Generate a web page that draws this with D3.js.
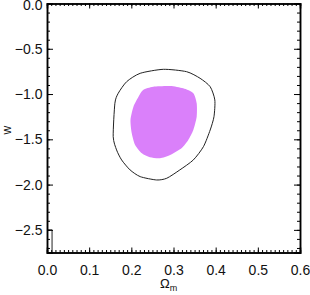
<!DOCTYPE html>
<html><head><meta charset="utf-8">
<script src="https://cdn.jsdelivr.net/npm/d3@7"></script>
<style>body{margin:0;background:#fff}svg{display:block}</style>
</head><body>
<script>
const xTicks = [0.0, 0.1, 0.2, 0.3, 0.4, 0.5, 0.6];
const yTicks = [0.0, -0.5, -1.0, -1.5, -2.0, -2.5];
const outerOm = [0.157,0.161,0.169,0.189,0.221,0.276,0.331,0.363,0.387,0.398,0.396,0.387,0.371,0.347,0.315,0.284,0.260,0.221,0.197,0.177,0.165];
const outerW  = [-1.470,-1.102,-0.991,-0.863,-0.771,-0.727,-0.753,-0.826,-0.919,-1.065,-1.250,-1.397,-1.581,-1.728,-1.838,-1.930,-1.949,-1.912,-1.838,-1.728,-1.617];
const innerOm = [0.217,0.228,0.252,0.292,0.323,0.347,0.355,0.355,0.347,0.335,0.319,0.292,0.268,0.244,0.225,0.209,0.201,0.198,0.205];
const innerW  = [-1.029,-0.955,-0.919,-0.911,-0.937,-0.991,-1.102,-1.250,-1.397,-1.507,-1.599,-1.673,-1.709,-1.698,-1.654,-1.562,-1.433,-1.286,-1.139];
const cornerOm = [0.0, 0.012, 0.012];
const cornerW  = [-2.5, -2.5, -2.75];

const W = 310, H = 295;
const svg = d3.select("body").append("svg").attr("width", W).attr("height", H);
const x = d3.scaleLinear().domain([0, 0.6]).range([47, 300]);
const y = d3.scaleLinear().domain([0, -2.75]).range([3.5, 252.5]);

const line = d3.line().x(d => x(d[0])).y(d => y(d[1])).curve(d3.curveCardinalClosed.tension(0.3));
const inner = innerOm.map((v, i) => [v, innerW[i]]);
const outer = outerOm.map((v, i) => [v, outerW[i]]);
svg.append("path").attr("d", line(inner)).attr("fill", "#da80fa").attr("stroke", "none");
svg.append("path").attr("d", line(outer)).attr("fill", "none").attr("stroke", "#222").attr("stroke-width", 1);
svg.append("path").attr("d", d3.line().x(d => x(d[0])).y(d => y(d[1]))(cornerOm.map((v, i) => [v, cornerW[i]])))
  .attr("fill", "none").attr("stroke", "#222").attr("stroke-width", 1);

const font = "Liberation Sans, Arial, Helvetica, sans-serif";
const minorX = d3.range(0, 61).map(i => i / 100);
const minorY = d3.range(0, 28).map(i => -i / 10);
svg.append("g").attr("transform", `translate(0,${y(-2.75)})`)
  .call(d3.axisBottom(x).tickValues(xTicks).tickSize(-5).tickPadding(13).tickFormat(d3.format(".1f")));
svg.append("g").attr("transform", `translate(0,${y(-2.75)})`)
  .call(d3.axisBottom(x).tickValues(minorX).tickSize(-2.5).tickFormat(""));
svg.append("g").attr("transform", `translate(0,${y(0)})`)
  .call(d3.axisTop(x).tickValues(xTicks).tickSize(-5).tickFormat(""));
svg.append("g").attr("transform", `translate(0,${y(0)})`)
  .call(d3.axisTop(x).tickValues(minorX).tickSize(-2.5).tickFormat(""));
const gL = svg.append("g").attr("transform", `translate(${x(0)},0)`)
  .call(d3.axisLeft(y).tickValues(yTicks).tickSize(-6).tickPadding(4.5).tickFormat(d => d3.format(".1f")(d).replace("-", "\u2212")));
svg.append("g").attr("transform", `translate(${x(0)},0)`)
  .call(d3.axisLeft(y).tickValues(minorY).tickSize(-3).tickFormat(""));
svg.append("g").attr("transform", `translate(${x(0.6)},0)`)
  .call(d3.axisRight(y).tickValues(yTicks).tickSize(-6).tickFormat(""));
svg.append("g").attr("transform", `translate(${x(0.6)},0)`)
  .call(d3.axisRight(y).tickValues(minorY).tickSize(-3).tickFormat(""));

svg.selectAll(".domain").attr("stroke", "#000").attr("stroke-width", 1.5);
svg.selectAll(".tick line").attr("stroke", "#000").attr("stroke-width", 1);
svg.selectAll(".tick text").attr("font-family", font).attr("font-size", 14).attr("fill", "#111");
gL.selectAll(".tick text").filter(d => d === 0).attr("dy", "0.45em");

svg.append("text").attr("transform", `translate(11,${y(-1.4)}) rotate(-90)`)
  .attr("text-anchor", "middle").attr("font-family", font).attr("font-size", 12).attr("fill", "#111").text("w");
const xl = svg.append("text").attr("x", 160).attr("y", 288).attr("font-family", font).attr("font-size", 13).attr("fill", "#111");
xl.append("tspan").text("\u03A9");
xl.append("tspan").attr("font-size", 9).attr("dy", 2.5).text("m");
</script>
</body></html>
